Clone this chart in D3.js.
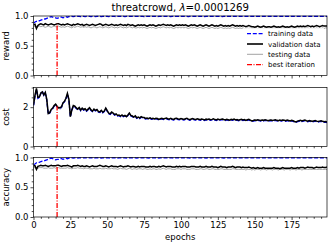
<!DOCTYPE html>
<html><head><meta charset="utf-8">
<script src="https://cdn.jsdelivr.net/npm/d3@7"></script>
<style>body{margin:0;background:#fff}svg{display:block}text{font-family:"DejaVu Sans",sans-serif}</style>
</head><body><svg id="c" width="332" height="246"></svg>
<script>
const title = "threatcrowd, ";
const lambdaText = "=0.0001269";
const bestEpoch = 16;
const xTicks = [0,25,50,75,100,125,150,175];
const legendLabels = ["training data","validation data","testing data","best iteration"];

const rewardTrain = [0.88,0.9,0.91,0.92,0.92,0.93,0.94,0.95,0.95,0.96,0.97,0.98,0.99,0.98,0.97,0.97,0.96,0.97,0.98,0.98,
0.97,0.98,0.99,0.98,0.99,0.99,0.995,0.99,0.995,0.99,0.995,0.995,0.99,0.995,0.995,0.99,0.995,0.995,0.995,0.99,
0.995,0.995,0.99,0.995,0.995,0.995,0.99,0.995,0.995,0.995,0.995,0.99,0.995,0.995,0.995,0.995,0.99,0.995,0.995,0.995,
0.995,0.995,0.99,0.995,0.995,0.995,0.995,0.995,0.99,0.995,0.995,0.995,0.995,0.995,0.995,0.99,0.995,0.995,0.995,0.995,
0.995,0.995,0.995,0.995,0.99,0.995,0.995,0.995,0.995,0.995,0.995,0.995,0.995,0.99,0.995,0.995,0.995,0.995,0.995,0.995,
0.995,0.995,0.995,0.995,0.995,0.99,0.995,0.995,0.995,0.995,0.995,0.995,0.995,0.995,0.995,0.995,0.99,0.995,0.995,0.995,
0.995,0.995,0.995,0.995,0.995,0.995,0.995,0.995,0.99,0.995,0.995,0.995,0.995,0.995,0.995,0.995,0.995,0.995,0.995,0.995,
0.995,0.995,0.995,0.995,0.995,0.995,0.995,0.995,0.995,0.995,0.995,0.995,0.995,0.995,0.995,0.995,0.995,0.995,0.995,0.995,
0.995,0.995,0.995,0.995,0.995,0.995,0.995,0.995,0.995,0.995,0.995,0.995,0.995,0.995,0.995,0.995,0.995,0.995,0.995,0.995,
0.995,0.995,0.995,0.995,0.995,0.995,0.995,0.995,0.995,0.995,0.995,0.995,0.995,0.995,0.995,0.995,0.995,0.995,0.995,0.995];

const rewardVal = [0.85,0.86,0.79,0.84,0.86,0.87,0.86,0.85,0.87,0.86,0.85,0.86,0.87,0.86,0.85,0.86,0.87,0.87,0.86,0.85,
0.86,0.85,0.86,0.87,0.86,0.85,0.84,0.86,0.85,0.86,0.87,0.86,0.85,0.86,0.84,0.85,0.86,0.85,0.84,0.85,
0.86,0.85,0.84,0.85,0.86,0.87,0.86,0.84,0.85,0.86,0.85,0.84,0.85,0.86,0.85,0.84,0.85,0.84,0.85,0.86,
0.85,0.84,0.85,0.84,0.86,0.85,0.84,0.85,0.84,0.83,0.84,0.85,0.84,0.85,0.84,0.85,0.84,0.83,0.84,0.85,
0.84,0.85,0.84,0.83,0.84,0.85,0.84,0.85,0.86,0.85,0.84,0.85,0.84,0.85,0.84,0.83,0.84,0.85,0.84,0.85,
0.84,0.85,0.84,0.85,0.84,0.83,0.84,0.85,0.84,0.85,0.84,0.83,0.84,0.85,0.84,0.83,0.84,0.85,0.84,0.83,
0.84,0.85,0.84,0.83,0.84,0.83,0.84,0.85,0.84,0.83,0.84,0.83,0.84,0.83,0.84,0.85,0.84,0.83,0.84,0.83,
0.84,0.83,0.84,0.83,0.82,0.83,0.84,0.83,0.82,0.82,0.81,0.82,0.83,0.82,0.81,0.82,0.83,0.82,0.81,0.82,
0.82,0.81,0.82,0.83,0.82,0.81,0.82,0.81,0.82,0.83,0.82,0.81,0.82,0.81,0.82,0.83,0.82,0.81,0.82,0.83,
0.82,0.83,0.82,0.83,0.82,0.83,0.84,0.83,0.82,0.83,0.82,0.83,0.84,0.83,0.82,0.83,0.84,0.83,0.83,0.83];

const rewardTest = [0.82,0.83,0.8,0.82,0.83,0.82,0.83,0.82,0.81,0.82,0.83,0.82,0.81,0.82,0.83,0.82,0.82,0.83,0.82,0.81,
0.82,0.81,0.82,0.83,0.82,0.81,0.8,0.82,0.81,0.82,0.83,0.82,0.81,0.82,0.81,0.82,0.81,0.82,0.81,0.8,
0.81,0.82,0.81,0.8,0.81,0.82,0.81,0.8,0.81,0.82,0.81,0.8,0.81,0.82,0.81,0.8,0.81,0.8,0.81,0.82,
0.81,0.8,0.81,0.8,0.81,0.82,0.81,0.8,0.81,0.8,0.8,0.81,0.8,0.81,0.8,0.81,0.8,0.79,0.8,0.81,
0.8,0.81,0.8,0.79,0.8,0.81,0.8,0.81,0.82,0.81,0.8,0.81,0.8,0.81,0.8,0.79,0.8,0.81,0.8,0.81,
0.8,0.81,0.8,0.81,0.8,0.79,0.8,0.81,0.8,0.81,0.8,0.79,0.8,0.81,0.8,0.79,0.8,0.81,0.8,0.79,
0.8,0.81,0.8,0.79,0.8,0.79,0.8,0.81,0.8,0.79,0.8,0.79,0.8,0.79,0.8,0.81,0.8,0.79,0.8,0.79,
0.8,0.79,0.8,0.79,0.79,0.8,0.79,0.8,0.79,0.79,0.79,0.8,0.79,0.8,0.79,0.8,0.79,0.8,0.79,0.8,
0.79,0.8,0.79,0.8,0.79,0.8,0.79,0.8,0.79,0.8,0.79,0.8,0.79,0.8,0.79,0.8,0.79,0.8,0.79,0.8,
0.79,0.8,0.79,0.8,0.79,0.8,0.8,0.79,0.8,0.79,0.8,0.79,0.8,0.79,0.8,0.79,0.8,0.79,0.8,0.8];

const costVal = [2.12,2.6,2.95,2.5,2.52,2.72,2.78,2.62,2.75,2.4,1.68,1.72,1.88,1.95,2.08,2.15,2.05,1.96,1.98,2.02,
2.22,2.3,2.45,2.7,2.4,1.52,1.86,2.08,2.05,1.96,
1.9,1.98,1.85,1.95,1.88,1.92,1.82,1.9,1.97,1.86,1.8,1.9,1.84,1.88,1.78,1.76,1.84,1.74,1.8,1.95,
1.82,1.7,1.66,1.75,1.7,1.62,1.66,1.58,1.6,1.55,1.6,1.54,1.58,1.52,1.6,1.7,1.58,1.55,1.5,1.56,
1.46,1.5,1.45,1.52,1.48,1.47,1.43,1.45,1.42,1.46,1.41,1.43,1.4,1.44,1.42,1.38,1.41,1.43,1.4,1.42,1.45,1.41,1.39,1.43,1.4,1.38,1.42,1.44,1.4,1.39,
1.42,1.4,1.38,1.41,1.43,1.39,1.36,1.4,1.42,1.38,1.37,1.41,1.39,1.36,1.4,1.38,1.35,1.39,1.37,1.4,1.36,1.38,1.41,1.37,1.35,1.39,1.36,1.38,1.4,1.37,
1.35,1.38,1.36,1.34,1.38,1.36,1.39,1.35,1.37,1.34,1.36,1.38,1.35,1.37,1.33,1.36,1.38,1.34,1.3,1.32,1.35,1.33,1.36,1.34,1.32,1.35,1.33,1.36,1.34,1.31,
1.33,1.35,1.32,1.34,1.36,1.33,1.31,1.34,1.32,1.35,1.33,1.31,1.34,1.32,1.3,1.33,1.31,1.27,1.25,1.29,
1.31,1.33,1.3,1.32,1.34,1.31,1.29,1.32,1.3,1.28,1.3,1.32,1.29,1.27,1.29,1.31,1.28,1.26,1.27,1.25];

const costTrain = [2.08,2.55,2.9,2.45,2.5,2.7,2.82,2.6,2.72,2.35,1.64,1.7,1.86,1.92,2.05,2.12,2.02,1.93,1.95,2.0,
2.2,2.27,2.42,2.66,2.36,1.5,1.83,2.05,2.02,1.93,
1.87,1.95,1.82,1.92,1.85,1.89,1.79,1.87,1.94,1.83,1.77,1.87,1.81,1.85,1.75,1.73,1.81,1.71,1.77,1.92,
1.79,1.67,1.63,1.72,1.67,1.59,1.63,1.55,1.57,1.52,1.57,1.51,1.55,1.49,1.57,1.67,1.55,1.52,1.47,1.53,
1.43,1.47,1.42,1.49,1.45,1.44,1.4,1.42,1.39,1.43,1.38,1.4,1.37,1.41,1.39,1.35,1.38,1.4,1.37,1.39,1.42,1.38,1.36,1.4,1.37,1.35,1.39,1.41,1.37,1.36,
1.39,1.37,1.35,1.38,1.4,1.36,1.33,1.37,1.39,1.35,1.34,1.38,1.36,1.33,1.37,1.35,1.32,1.36,1.34,1.37,1.33,1.35,1.38,1.34,1.32,1.36,1.33,1.35,1.37,1.34,
1.32,1.35,1.33,1.31,1.35,1.33,1.36,1.32,1.34,1.31,1.33,1.35,1.32,1.34,1.3,1.33,1.35,1.31,1.27,1.29,1.32,1.3,1.33,1.31,1.29,1.32,1.3,1.33,1.31,1.28,
1.3,1.32,1.29,1.31,1.33,1.3,1.28,1.31,1.29,1.32,1.3,1.28,1.31,1.29,1.27,1.3,1.28,1.24,1.22,1.26,
1.28,1.3,1.27,1.29,1.31,1.28,1.26,1.29,1.27,1.25,1.27,1.29,1.26,1.24,1.26,1.28,1.25,1.23,1.24,1.22];

const costTest = [2.1,2.58,2.92,2.48,2.5,2.7,2.76,2.6,2.73,2.38,1.66,1.71,1.87,1.93,2.06,2.13,2.03,1.95,1.9,1.94,
2.2,2.28,2.43,2.68,2.38,1.51,1.84,2.06,2.03,1.95,
1.88,1.96,1.84,1.93,1.87,1.9,1.8,1.88,1.95,1.84,1.79,1.88,1.83,1.86,1.77,1.75,1.83,1.73,1.79,1.93,
1.8,1.69,1.65,1.73,1.69,1.61,1.65,1.57,1.59,1.54,1.59,1.53,1.57,1.51,1.59,1.68,1.57,1.54,1.49,1.55,
1.45,1.49,1.44,1.51,1.47,1.46,1.42,1.44,1.41,1.45,1.4,1.42,1.39,1.43,1.41,1.37,1.4,1.42,1.39,1.41,1.44,1.4,1.38,1.42,1.39,1.37,1.41,1.43,1.39,1.38,
1.41,1.39,1.37,1.4,1.42,1.38,1.35,1.39,1.41,1.37,1.36,1.4,1.38,1.35,1.39,1.37,1.34,1.38,1.36,1.39,1.35,1.37,1.4,1.36,1.34,1.38,1.35,1.37,1.39,1.36,
1.34,1.37,1.35,1.33,1.37,1.35,1.38,1.34,1.36,1.33,1.35,1.37,1.34,1.36,1.32,1.35,1.37,1.33,1.29,1.31,1.34,1.32,1.35,1.33,1.31,1.34,1.32,1.35,1.33,1.3,
1.32,1.34,1.31,1.33,1.35,1.32,1.3,1.33,1.31,1.34,1.32,1.3,1.33,1.31,1.29,1.32,1.3,1.26,1.24,1.28,
1.3,1.32,1.29,1.31,1.33,1.3,1.28,1.31,1.29,1.27,1.29,1.31,1.28,1.26,1.28,1.3,1.27,1.25,1.26,1.24];

const accTrain = [0.88,0.89,0.91,0.91,0.92,0.93,0.94,0.94,0.95,0.96,0.97,0.98,0.99,0.98,0.97,0.96,0.97,0.97,0.98,0.98,
0.97,0.98,0.99,0.98,0.99,0.99,0.995,0.99,0.995,0.995,0.99,0.995,0.995,0.99,0.995,0.995,0.995,0.99,0.995,0.995,
0.995,0.99,0.995,0.995,0.995,0.995,0.99,0.995,0.995,0.995,0.995,0.995,0.99,0.995,0.995,0.995,0.995,0.99,0.995,0.995,
0.995,0.995,0.995,0.99,0.995,0.995,0.995,0.995,0.995,0.995,0.99,0.995,0.995,0.995,0.995,0.995,0.995,0.995,0.99,0.995,
0.995,0.995,0.995,0.995,0.995,0.99,0.995,0.995,0.995,0.995,0.995,0.995,0.995,0.995,0.995,0.99,0.995,0.995,0.995,0.995,
0.995,0.995,0.995,0.995,0.995,0.995,0.99,0.995,0.995,0.995,0.995,0.995,0.995,0.995,0.995,0.995,0.995,0.99,0.995,0.995,
0.995,0.995,0.995,0.995,0.995,0.995,0.995,0.995,0.995,0.99,0.995,0.995,0.995,0.995,0.995,0.995,0.995,0.995,0.995,0.995,
0.995,0.995,0.995,0.995,0.995,0.995,0.995,0.995,0.995,0.995,0.995,0.995,0.995,0.995,0.995,0.995,0.995,0.995,0.995,0.995,
0.995,0.995,0.995,0.995,0.995,0.995,0.995,0.995,0.995,0.995,0.995,0.995,0.995,0.995,0.995,0.995,0.995,0.995,0.995,0.995,
0.995,0.995,0.995,0.995,0.995,0.995,0.995,0.995,0.995,0.995,0.995,0.995,0.995,0.995,0.995,0.995,0.995,0.995,0.995,0.995];

const accVal = [0.86,0.86,0.8,0.85,0.86,0.87,0.86,0.86,0.87,0.86,0.85,0.86,0.87,0.86,0.86,0.86,0.87,0.87,0.86,0.85,
0.86,0.86,0.86,0.87,0.86,0.85,0.84,0.86,0.86,0.86,0.87,0.86,0.85,0.86,0.85,0.85,0.86,0.85,0.84,0.85,
0.86,0.85,0.85,0.85,0.86,0.87,0.86,0.85,0.85,0.86,0.85,0.84,0.85,0.86,0.85,0.85,0.85,0.84,0.85,0.86,
0.85,0.84,0.85,0.85,0.86,0.85,0.84,0.85,0.85,0.84,0.84,0.85,0.84,0.85,0.85,0.85,0.84,0.84,0.84,0.85,
0.84,0.85,0.85,0.84,0.84,0.85,0.84,0.85,0.86,0.85,0.84,0.85,0.85,0.85,0.84,0.84,0.84,0.85,0.84,0.85,
0.84,0.85,0.85,0.85,0.84,0.84,0.84,0.85,0.85,0.85,0.84,0.84,0.84,0.85,0.84,0.84,0.84,0.85,0.84,0.84,
0.84,0.85,0.84,0.84,0.84,0.83,0.84,0.85,0.84,0.84,0.84,0.83,0.84,0.84,0.84,0.85,0.84,0.83,0.84,0.84,
0.84,0.83,0.84,0.83,0.83,0.83,0.84,0.83,0.82,0.83,0.82,0.82,0.83,0.82,0.82,0.82,0.83,0.82,0.82,0.82,
0.82,0.82,0.82,0.83,0.82,0.82,0.82,0.81,0.82,0.83,0.82,0.82,0.82,0.82,0.82,0.83,0.82,0.82,0.82,0.83,
0.82,0.83,0.83,0.83,0.82,0.83,0.84,0.83,0.83,0.83,0.82,0.83,0.84,0.83,0.83,0.83,0.84,0.83,0.83,0.84];

const accTest = [0.83,0.83,0.81,0.82,0.83,0.83,0.83,0.82,0.82,0.82,0.83,0.82,0.82,0.82,0.83,0.82,0.83,0.83,0.82,0.82,
0.82,0.82,0.82,0.83,0.82,0.82,0.81,0.82,0.82,0.82,0.83,0.82,0.82,0.82,0.81,0.82,0.82,0.82,0.81,0.81,
0.81,0.82,0.81,0.81,0.81,0.82,0.81,0.81,0.81,0.82,0.81,0.81,0.81,0.82,0.81,0.81,0.81,0.8,0.81,0.82,
0.81,0.81,0.81,0.8,0.81,0.82,0.81,0.8,0.81,0.81,0.8,0.81,0.81,0.81,0.8,0.81,0.81,0.8,0.8,0.81,
0.8,0.81,0.81,0.8,0.8,0.81,0.8,0.81,0.82,0.81,0.8,0.81,0.81,0.81,0.8,0.8,0.8,0.81,0.81,0.81,
0.8,0.81,0.81,0.81,0.8,0.8,0.8,0.81,0.81,0.81,0.8,0.8,0.8,0.81,0.81,0.8,0.8,0.81,0.81,0.8,
0.8,0.81,0.81,0.8,0.8,0.8,0.8,0.81,0.81,0.8,0.8,0.8,0.8,0.8,0.8,0.81,0.81,0.8,0.8,0.8,
0.8,0.8,0.8,0.8,0.79,0.8,0.8,0.8,0.79,0.8,0.79,0.8,0.8,0.8,0.79,0.8,0.8,0.8,0.79,0.8,
0.8,0.8,0.79,0.8,0.8,0.8,0.79,0.8,0.8,0.8,0.79,0.8,0.8,0.8,0.79,0.8,0.8,0.8,0.79,0.8,
0.8,0.8,0.79,0.8,0.8,0.8,0.8,0.8,0.8,0.8,0.8,0.8,0.8,0.8,0.8,0.8,0.8,0.8,0.8,0.8];

const panels = [
  {label:"reward", train:rewardTrain, val:rewardVal, test:rewardTest, domain:[0,1], ticks:[0,0.5,1], fmt:d3.format(".1f"), minor:0.1, top:16, bottom:75.5},
  {label:"cost", train:costTrain, val:costVal, test:costTest, domain:[0,3.0], ticks:[0,2], fmt:d3.format("d"), minor:0.5, top:87.5, bottom:146.5},
  {label:"accuracy", train:accTrain, val:accVal, test:accTest, domain:[0,1], ticks:[0,0.5,1], fmt:d3.format(".1f"), minor:0.1, top:157.5, bottom:217}
];

const svg = d3.select("#c");
const L = 33.5, R = 327;
const x = d3.scaleLinear().domain([0,199]).range([L,R]);
const epochs = d3.range(rewardVal.length);

svg.append("text").attr("x",(L+R)/2).attr("y",11).attr("text-anchor","middle").attr("font-size",10.2)
  .text(title).append("tspan").attr("font-style","italic").text("λ")
  .select(function(){return this.parentNode;}).append("tspan").text(lambdaText);

panels.forEach((p,i)=>{
  const y = d3.scaleLinear().domain(p.domain).range([p.bottom,p.top]);
  const g = svg.append("g");
  const clipId = "clip"+i;
  svg.append("clipPath").attr("id",clipId).append("rect").attr("x",L).attr("y",p.top-1).attr("width",R-L).attr("height",p.bottom-p.top+1);
  const line = arr => d3.line().x((d,j)=>x(j)).y(d=>y(d))(arr);
  const lg = g.append("g").attr("clip-path",`url(#${clipId})`);
  lg.append("path").attr("d",line(p.test)).attr("fill","none").attr("stroke","#999").attr("stroke-width",0.9);
  lg.append("path").attr("d",line(p.train)).attr("fill","none").attr("stroke","#0000ff").attr("stroke-width",1.3).attr("stroke-dasharray","4,1.8");
  lg.append("path").attr("d",line(p.val)).attr("fill","none").attr("stroke","#000").attr("stroke-width",1.5);
  g.append("line").attr("x1",x(bestEpoch)).attr("x2",x(bestEpoch)).attr("y1",y(0)).attr("y2",y(p.val[bestEpoch]))
    .attr("stroke","#ff0000").attr("stroke-width",1.3).attr("stroke-dasharray","5,1.5,1,1.5");

  // axes
  const yAx = d3.axisLeft(y).tickValues(p.ticks).tickFormat(p.fmt).tickSize(3).tickPadding(2);
  const ya = g.append("g").attr("transform",`translate(${L},0)`).call(yAx);
  const minorY = d3.range(p.domain[0], p.domain[1]+1e-9, p.minor).filter(v=>!p.ticks.some(t=>Math.abs(t-v)<1e-9));
  g.append("g").attr("transform",`translate(${L},0)`).call(d3.axisLeft(y).tickValues(minorY).tickSize(1.8).tickFormat(""));
  const xAx = d3.axisBottom(x).tickValues(xTicks).tickSize(3).tickPadding(1.5).tickFormat(i===2?d3.format("d"):"");
  g.append("g").attr("transform",`translate(0,${p.bottom})`).call(xAx);
  const minorX = d3.range(0,200,5).filter(v=>v%25!==0);
  g.append("g").attr("transform",`translate(0,${p.bottom})`).call(d3.axisBottom(x).tickValues(minorX).tickSize(1.8).tickFormat(""));
  g.selectAll(".domain").remove();
  g.selectAll(".tick line").attr("stroke","#000").attr("stroke-width",0.7);
  g.selectAll(".tick text").attr("font-size",8.5).attr("font-family","DejaVu Sans").attr("fill","#000");
  g.append("rect").attr("x",L).attr("y",p.top).attr("width",R-L).attr("height",p.bottom-p.top)
    .attr("fill","none").attr("stroke","#000").attr("stroke-width",0.7);
  g.append("text").attr("transform",`translate(9,${(p.top+p.bottom)/2}) rotate(-90)`).attr("text-anchor","middle")
    .attr("font-size",8.5).text(p.label);
});

svg.append("text").attr("x",(L+R)/2).attr("y",240).attr("text-anchor","middle").attr("font-size",8.5).text("epochs");

// legend
const legendStyles = [
  {stroke:"#0000ff", w:1.3, dash:"4,1.8"},
  {stroke:"#000", w:1.6, dash:null},
  {stroke:"#999", w:0.9, dash:null},
  {stroke:"#ff0000", w:1.3, dash:"5,1.5,1,1.5"}
];
const lgd = svg.append("g");
lgd.append("rect").attr("x",243).attr("y",28).attr("width",81).attr("height",43).attr("fill","#fff").attr("fill-opacity",0.8);
legendLabels.forEach((t,k)=>{
  const yy = 33.7 + k*10.3;
  const s = legendStyles[k];
  const ln = lgd.append("line").attr("x1",247).attr("x2",263).attr("y1",yy).attr("y2",yy).attr("stroke",s.stroke).attr("stroke-width",s.w);
  if(s.dash) ln.attr("stroke-dasharray",s.dash);
  lgd.append("text").attr("x",268).attr("y",yy+2.5).attr("font-size",7).text(t);
});
</script></body></html>
